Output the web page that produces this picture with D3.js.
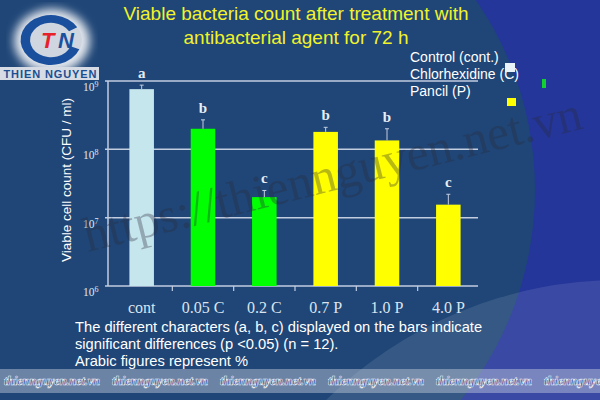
<!DOCTYPE html>
<html>
<head>
<meta charset="utf-8">
<script src="https://cdn.jsdelivr.net/npm/d3@7"></script>
<style>
  html, body { margin: 0; padding: 0; background: #23389a; }
  svg { display: block; }
</style>
</head>
<body>
<svg id="chart" width="600" height="400"></svg>
<script>
'use strict';

// data
const categories = ['cont', '0.05 C', '0.2 C', '0.7 P', '1.0 P', '4.0 P'];
const counts = [7.6e8, 2.0e8, 2.0e7, 1.8e8, 1.35e8, 1.55e7];
const errorTops = [8.7e8, 2.7e8, 2.5e7, 2.1e8, 2.0e8, 2.2e7];
const letters = ['a', 'b', 'c', 'b', 'b', 'c'];
const yTicks = [1e6, 1e7, 1e8, 1e9];
const legendLabels = ['Control (cont.)', 'Chlorhexidine (C)', 'Pancil (P)'];
const titleLines = ['Viable bacteria count after treatment with', 'antibacterial agent for 72 h'];
const noteLines = [
  'The different characters (a, b, c) displayed on the bars indicate',
  'significant differences (p <0.05) (n = 12).',
  'Arabic figures represent %'
];

const barColors = ['#c6e6ee', '#00ff00', '#00ff00', '#ffff00', '#ffff00', '#ffff00'];
const SANS = 'Arial, "Liberation Sans", sans-serif';
const SERIF = '"Times New Roman", "Liberation Serif", serif';
const LINE = '#c3cde0';

let svg = d3.select('#chart');

// background swooshes
svg.append('rect').attr('width', 600).attr('height', 400).attr('fill', '#24369a');
svg.append('circle').attr('cx', 200).attr('cy', 190).attr('r', 335).attr('fill', '#1f4677');
svg.append('circle').attr('cx', 620).attr('cy', 700).attr('r', 420)
  .attr('fill', '#ffffff').attr('opacity', 0.1);

// logo
let defs = svg.append('defs');
defs.append('filter').attr('id', 'glow')
  .append('feGaussianBlur').attr('stdDeviation', 5);
let logo = svg.append('g');
logo.append('ellipse').attr('cx', 52).attr('cy', 41).attr('rx', 38).attr('ry', 32)
  .attr('fill', '#e4e8ee').attr('filter', 'url(#glow)');
logo.append('ellipse').attr('cx', 52).attr('cy', 40).attr('rx', 30).attr('ry', 25)
  .attr('fill', '#cfd6df');
let arc = d3.arc().innerRadius(20).outerRadius(29)
  .startAngle(Math.PI * 0.62).endAngle(Math.PI * 2.33);
logo.append('path').attr('d', arc())
  .attr('transform', 'translate(51,40) scale(1.05,0.86)')
  .attr('fill', '#1a4f9d');
logo.append('text').attr('x', 41).attr('y', 48)
  .attr('font-family', SANS).attr('font-weight', 'bold').attr('font-style', 'italic')
  .attr('font-size', 22).attr('fill', '#e8202a').text('T');
logo.append('text').attr('x', 58).attr('y', 48)
  .attr('font-family', SANS).attr('font-weight', 'bold').attr('font-style', 'italic')
  .attr('font-size', 22).attr('fill', '#1a4f9d').text('N');
logo.append('rect').attr('x', 0).attr('y', 67).attr('width', 99).attr('height', 13)
  .attr('fill', '#d7dce4');
logo.append('text').attr('x', 50).attr('y', 77.5).attr('text-anchor', 'middle')
  .attr('font-family', SANS).attr('font-weight', 'bold').attr('font-size', 11)
  .attr('textLength', 93).attr('fill', '#1b4f92').text('THIEN NGUYEN');

// title
svg.append('g').selectAll('text')
  .data(titleLines)
  .enter().append('text')
    .attr('x', 296)
    .attr('y', function(d, i) { return 20 + i * 24; })
    .attr('text-anchor', 'middle')
    .attr('font-family', SANS).attr('font-size', 19)
    .attr('fill', '#f2f22a')
    .text(function(d) { return d; });

// scales
let x = d3.scaleBand()
  .domain(categories)
  .range([111, 479])
  .paddingInner(0.6)
  .paddingOuter(0.3);

let y = d3.scaleLog()
  .domain([1e6, 1e9])
  .range([286, 81]);

// gridlines
svg.append('g').selectAll('line')
  .data(yTicks)
  .enter().append('line')
    .attr('x1', 105).attr('x2', 478)
    .attr('y1', function(d) { return y(d); })
    .attr('y2', function(d) { return y(d); })
    .attr('stroke', LINE).attr('stroke-width', 1.5);

// y axis line
svg.append('line')
  .attr('x1', 108).attr('x2', 108).attr('y1', y(1e9)).attr('y2', y(1e6))
  .attr('stroke', LINE).attr('stroke-width', 1.5);

// y tick labels 10^n
let yLab = svg.append('g').selectAll('text')
  .data(yTicks)
  .enter().append('text')
    .attr('x', 83)
    .attr('y', function(d) { return y(d) + 10; })
    .attr('font-family', SERIF).attr('font-size', 11.5)
    .attr('fill', '#dfe6ef');
yLab.append('tspan').text('10');
yLab.append('tspan').attr('dy', -4).attr('font-size', 8)
  .text(function(d) { return Math.round(Math.log10(d)); });

// x ticks between bands
let step = x.step();
svg.append('g').selectAll('line')
  .data(categories.slice(1))
  .enter().append('line')
    .attr('x1', function(d) { return x(d) + x.bandwidth() / 2 - step / 2; })
    .attr('x2', function(d) { return x(d) + x.bandwidth() / 2 - step / 2; })
    .attr('y1', y(1e6)).attr('y2', y(1e6) + 5)
    .attr('stroke', LINE).attr('stroke-width', 1.2);

// x labels
svg.append('g').selectAll('text')
  .data(categories)
  .enter().append('text')
    .attr('x', function(d) { return x(d) + x.bandwidth() / 2; })
    .attr('y', 313)
    .attr('text-anchor', 'middle')
    .attr('font-family', SERIF).attr('font-size', 16)
    .attr('fill', '#dbe4ef')
    .text(function(d) { return d; });

// bars
svg.append('g').selectAll('rect')
  .data(categories)
  .enter().append('rect')
    .attr('x', function(d) { return x(d); })
    .attr('y', function(d, i) { return y(counts[i]); })
    .attr('width', x.bandwidth())
    .attr('height', function(d, i) { return y(1e6) - y(counts[i]); })
    .attr('fill', function(d, i) { return barColors[i]; });

// error bars
let err = svg.append('g').selectAll('g')
  .data(categories)
  .enter().append('g')
    .attr('stroke', LINE).attr('stroke-width', 1);
err.append('line')
  .attr('x1', function(d) { return x(d) + x.bandwidth() / 2; })
  .attr('x2', function(d) { return x(d) + x.bandwidth() / 2; })
  .attr('y1', function(d, i) { return y(counts[i]); })
  .attr('y2', function(d, i) { return y(errorTops[i]); });
err.append('line')
  .attr('x1', function(d) { return x(d) + x.bandwidth() / 2 - 2; })
  .attr('x2', function(d) { return x(d) + x.bandwidth() / 2 + 2; })
  .attr('y1', function(d, i) { return y(errorTops[i]); })
  .attr('y2', function(d, i) { return y(errorTops[i]); });

// significance letters
svg.append('g').selectAll('text')
  .data(categories)
  .enter().append('text')
    .attr('x', function(d) { return x(d) + x.bandwidth() / 2; })
    .attr('y', function(d, i) { return y(errorTops[i]) - 7; })
    .attr('text-anchor', 'middle')
    .attr('font-family', SERIF).attr('font-weight', 'bold').attr('font-size', 15)
    .attr('fill', '#e6edf5')
    .text(function(d, i) { return letters[i]; });

// y axis title
svg.append('text')
  .attr('transform', 'translate(71,180) rotate(-90)')
  .attr('text-anchor', 'middle')
  .attr('font-family', SANS).attr('font-size', 13.5)
  .attr('fill', '#ffffff')
  .text('Viable cell count (CFU / ml)');

// legend (text and swatches sit apart, as on the slide)
svg.append('g').selectAll('text')
  .data(legendLabels)
  .enter().append('text')
    .attr('x', 410)
    .attr('y', function(d, i) { return 62 + i * 17; })
    .attr('font-family', SANS).attr('font-size', 14)
    .attr('fill', '#ffffff')
    .text(function(d) { return d; });
svg.append('rect').attr('x', 505).attr('y', 63).attr('width', 10).attr('height', 9)
  .attr('fill', '#e8f2f8');
svg.append('rect').attr('x', 542).attr('y', 79).attr('width', 4).attr('height', 9)
  .attr('fill', '#11d030');
svg.append('rect').attr('x', 507).attr('y', 98).attr('width', 9).attr('height', 8)
  .attr('fill', '#ffff00');

// notes
svg.append('g').selectAll('text')
  .data(noteLines)
  .enter().append('text')
    .attr('x', 75)
    .attr('y', function(d, i) { return 332 + i * 17; })
    .attr('font-family', SANS).attr('font-size', 14.7)
    .attr('fill', '#ffffff')
    .text(function(d) { return d; });

// watermark
svg.append('text')
  .attr('transform', 'translate(88,252) rotate(-14)')
  .attr('font-family', SERIF).attr('font-size', 49)
  .attr('fill', '#2a2a3a').attr('opacity', 0.33)
  .text('https://thiennguyen.net.vn');

// bottom strip
svg.append('rect').attr('x', 0).attr('y', 369).attr('width', 600).attr('height', 24)
  .attr('fill', '#c8cede').attr('opacity', 0.45);
svg.append('g').selectAll('text')
  .data(d3.range(5))
  .enter().append('text')
    .attr('x', function(d) { return 4 + d * 108; })
    .attr('y', 385)
    .attr('font-family', SERIF).attr('font-style', 'italic').attr('font-weight', 'bold')
    .attr('font-size', 12.5).attr('textLength', 96)
    .attr('fill', '#26408a').attr('stroke', '#eef0f5').attr('stroke-width', 0.6)
    .text('thiennguyen.net.vn');
svg.append('text')
  .attr('x', 544).attr('y', 385)
  .attr('font-family', SERIF).attr('font-style', 'italic').attr('font-weight', 'bold')
  .attr('font-size', 12.5)
  .attr('fill', '#26408a').attr('stroke', '#eef0f5').attr('stroke-width', 0.6)
  .text('thiennguye');
</script>
</body>
</html>
